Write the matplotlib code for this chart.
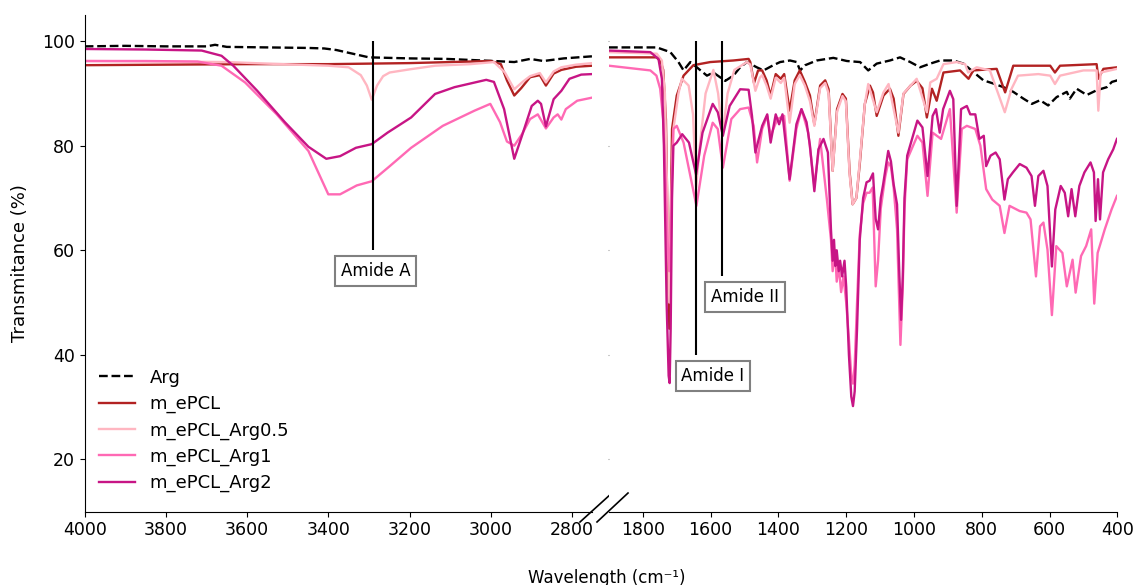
import matplotlib
matplotlib.use("Agg")
import matplotlib.pyplot as plt

# ---------------- data (wavenumber cm-1, transmittance %) ----------------
# Left panel (4000-2750)
arg_L_x = [4000, 3900, 3800, 3700, 3679, 3650, 3550, 3450, 3410, 3380, 3340, 3300, 3250, 3200, 3108, 3050, 2992, 2942, 2903, 2870, 2820, 2750]
arg_L_y = [99.0, 99.1, 99.0, 99.0, 99.3, 98.9, 98.8, 98.7, 98.6, 98.3, 97.6, 96.9, 96.8, 96.7, 96.6, 96.4, 96.2, 96.0, 96.6, 96.2, 96.7, 97.1]

pcl_L_x = [4000, 3800, 3600, 3400, 3200, 3100, 3000, 2975, 2960, 2942, 2925, 2903, 2879, 2864, 2845, 2826, 2790, 2750]
pcl_L_y = [95.4, 95.5, 95.6, 95.6, 95.8, 96.0, 96.2, 95.6, 92.5, 89.6, 91.0, 93.1, 93.5, 91.5, 93.8, 94.5, 95.1, 95.3]

a05_L_x = [4000, 3800, 3650, 3550, 3400, 3350, 3320, 3305, 3293, 3280, 3265, 3249, 3200, 3137, 3050, 2992, 2965, 2942, 2920, 2903, 2879, 2864, 2845, 2826, 2790, 2750]
a05_L_y = [96.2, 96.1, 96.0, 95.7, 95.3, 95.0, 93.5, 91.5, 88.8, 91.5, 93.3, 94.0, 94.6, 95.3, 95.6, 96.0, 94.0, 90.8, 92.3, 93.3, 93.9, 92.1, 94.2, 95.0, 95.5, 95.8]

a1_L_x = [4000, 3850, 3722, 3663, 3605, 3527, 3449, 3400, 3371, 3330, 3293, 3250, 3196, 3118, 3040, 3001, 2977, 2960, 2942, 2923, 2903, 2884, 2864, 2845, 2835, 2826, 2815, 2787, 2750]
a1_L_y = [96.2, 96.2, 96.1, 95.3, 92.1, 86.0, 79.0, 70.7, 70.7, 72.4, 73.2, 76.0, 79.6, 83.8, 86.7, 88.0, 84.5, 80.8, 80.0, 82.2, 85.1, 86.0, 83.3, 85.4, 86.0, 85.0, 87.0, 88.6, 89.2]

a2_L_x = [4000, 3850, 3712, 3663, 3634, 3575, 3507, 3449, 3405, 3371, 3332, 3293, 3254, 3196, 3137, 3089, 3011, 2992, 2967, 2942, 2923, 2899, 2884, 2876, 2864, 2845, 2826, 2806, 2777, 2750]
a2_L_y = [98.5, 98.4, 98.2, 97.2, 95.3, 90.5, 84.5, 79.8, 77.5, 78.0, 79.6, 80.3, 82.5, 85.4, 89.9, 91.2, 92.6, 92.2, 87.0, 77.5, 81.9, 87.6, 88.6, 88.0, 83.7, 88.9, 90.5, 92.8, 93.6, 93.7]

# Right panel (1900-400)
arg_R_x = [1900, 1759, 1719, 1695, 1680, 1660, 1641, 1611, 1592, 1557, 1533, 1513, 1493, 1464, 1444, 1415, 1395, 1366, 1346, 1336, 1321, 1287, 1238, 1198, 1159, 1135, 1110, 1071, 1041, 1011, 982, 952, 923, 884, 854, 825, 795, 766, 736, 707, 677, 652, 628, 604, 579, 549, 540, 520, 490, 461, 431, 416, 400]
arg_R_y = [98.8, 98.8, 97.9, 96.0, 94.4, 96.0, 95.0, 93.4, 94.0, 92.4, 93.4, 95.0, 96.0, 95.0, 94.4, 95.4, 96.0, 96.3, 96.0, 94.4, 95.4, 96.3, 96.8, 96.2, 96.0, 94.4, 95.7, 96.3, 96.9, 96.0, 95.0, 95.7, 96.3, 96.3, 95.7, 94.1, 92.5, 91.9, 91.2, 90.3, 89.0, 88.0, 88.7, 87.7, 89.3, 90.3, 89.0, 90.9, 89.7, 90.6, 91.2, 92.2, 92.5]

pcl_R_x = [1900, 1760, 1748, 1740, 1732, 1726, 1722, 1718, 1714, 1700, 1680, 1651, 1601, 1533, 1488, 1483, 1472, 1460, 1448, 1435, 1423, 1408, 1393, 1383, 1367, 1352, 1337, 1322, 1307, 1294, 1277, 1262, 1252, 1240, 1227, 1211, 1201, 1190, 1181, 1170, 1160, 1145, 1130, 1121, 1110, 1090, 1071, 1060, 1046, 1031, 1010, 992, 975, 962, 947, 933, 913, 864, 839, 825, 756, 731, 707, 598, 584, 569, 461, 456, 441, 400]
pcl_R_y = [96.9, 96.9, 96.2, 94.5, 85.0, 60.0, 45.0, 65.0, 83.2, 89.6, 93.4, 95.4, 96.0, 96.3, 96.6, 96.0, 92.0, 94.4, 94.4, 92.5, 89.6, 93.7, 92.8, 93.7, 86.7, 92.5, 94.4, 92.2, 89.6, 84.1, 91.5, 92.5, 90.8, 75.2, 87.0, 89.9, 89.0, 75.0, 68.8, 70.0, 76.5, 88.0, 91.5, 90.2, 85.7, 89.6, 90.9, 89.0, 81.9, 89.9, 91.5, 92.4, 91.0, 85.4, 90.9, 88.6, 94.0, 94.4, 92.8, 94.4, 94.7, 90.2, 95.3, 95.3, 94.0, 95.3, 95.6, 92.8, 94.7, 95.0]

a05_R_x = [1900, 1759, 1744, 1735, 1728, 1722, 1716, 1710, 1695, 1685, 1665, 1652, 1643, 1632, 1615, 1592, 1578, 1565, 1550, 1530, 1493, 1483, 1468, 1455, 1448, 1435, 1423, 1408, 1393, 1383, 1367, 1352, 1337, 1322, 1307, 1294, 1277, 1262, 1252, 1240, 1227, 1211, 1201, 1190, 1181, 1170, 1160, 1145, 1135, 1110, 1090, 1075, 1046, 1031, 992, 962, 952, 933, 913, 874, 849, 840, 815, 776, 732, 712, 693, 633, 598, 584, 569, 500, 461, 456, 449, 401]
a05_R_y = [97.9, 97.6, 96.3, 90.0, 70.0, 50.0, 70.0, 83.2, 90.0, 92.8, 91.5, 86.0, 72.0, 80.0, 90.0, 94.5, 90.0, 82.0, 90.0, 94.5, 96.0, 95.5, 90.5, 93.0, 93.5, 91.5, 89.0, 93.0, 92.0, 93.0, 84.4, 91.8, 93.5, 91.5, 88.5, 83.8, 91.0, 92.0, 90.0, 75.2, 86.5, 89.5, 88.5, 74.5, 68.8, 70.0, 77.0, 88.0, 91.8, 86.4, 90.2, 91.8, 82.5, 90.0, 92.8, 86.4, 92.1, 92.8, 95.6, 96.0, 95.6, 94.0, 95.0, 94.4, 86.4, 90.9, 93.4, 93.7, 93.4, 91.8, 93.4, 94.4, 94.4, 86.7, 94.0, 94.7]

a1_R_x = [1900, 1778, 1760, 1749, 1740, 1732, 1726, 1722, 1718, 1714, 1710, 1700, 1680, 1642, 1619, 1594, 1579, 1564, 1539, 1513, 1488, 1473, 1463, 1448, 1433, 1423, 1403, 1383, 1367, 1347, 1332, 1312, 1294, 1277, 1257, 1245, 1240, 1233, 1228, 1222, 1215, 1208, 1200, 1192, 1185, 1180, 1175, 1168, 1160, 1150, 1140, 1131, 1122, 1113, 1106, 1098, 1085, 1076, 1068, 1060, 1050, 1040, 1033, 1028, 1020, 990, 975, 960, 945, 920, 894, 874, 859, 844, 819, 804, 787, 769, 747, 733, 718, 688, 668, 656, 640, 628, 618, 606, 593, 580, 562, 549, 532, 523, 507, 492, 477, 468, 458, 437, 417, 401]
a1_R_y = [95.3, 94.4, 93.4, 90.9, 85.0, 72.0, 60.0, 56.0, 62.0, 75.0, 83.2, 83.8, 80.6, 68.5, 78.1, 84.4, 83.2, 75.8, 85.1, 87.0, 87.3, 83.8, 76.8, 83.2, 85.7, 81.9, 85.1, 85.7, 73.3, 83.2, 87.0, 82.5, 72.3, 81.3, 69.7, 62.0, 56.0, 60.0, 54.0, 57.0, 52.0, 55.0, 50.0, 43.0, 36.0, 34.5, 38.0, 50.0, 63.0, 69.0, 71.0, 71.0, 72.0, 53.1, 58.0, 68.0, 74.0, 76.8, 76.0, 72.0, 64.0, 41.9, 53.0, 68.0, 77.4, 81.9, 80.6, 70.4, 82.5, 81.3, 87.0, 67.2, 83.2, 83.8, 83.2, 80.0, 71.7, 69.7, 68.5, 63.3, 68.5, 67.5, 67.2, 65.9, 55.0, 64.6, 65.3, 60.1, 47.6, 60.8, 59.5, 53.1, 58.2, 51.9, 58.9, 60.8, 64.0, 49.8, 59.5, 64.0, 67.8, 70.4]

a2_R_x = [1900, 1778, 1754, 1744, 1738, 1730, 1724, 1721, 1718, 1714, 1710, 1700, 1684, 1664, 1643, 1624, 1594, 1579, 1564, 1544, 1513, 1488, 1478, 1468, 1458, 1448, 1433, 1423, 1408, 1398, 1388, 1367, 1347, 1332, 1317, 1307, 1294, 1282, 1267, 1254, 1245, 1240, 1236, 1232, 1228, 1222, 1218, 1212, 1205, 1200, 1192, 1185, 1180, 1175, 1168, 1160, 1150, 1140, 1131, 1121, 1113, 1106, 1098, 1091, 1076, 1068, 1060, 1050, 1043, 1038, 1033, 1028, 1020, 990, 975, 960, 945, 935, 924, 914, 894, 884, 874, 861, 844, 834, 819, 807, 794, 787, 774, 759, 747, 733, 723, 708, 688, 668, 653, 643, 633, 618, 606, 593, 583, 567, 555, 545, 535, 524, 512, 497, 479, 469, 464, 457, 451, 442, 427, 412, 401]
a2_R_y = [98.2, 97.9, 96.6, 92.8, 80.0, 50.0, 36.0, 34.6, 45.0, 70.0, 80.0, 80.6, 82.2, 80.6, 74.5, 82.5, 88.0, 86.4, 81.9, 87.6, 90.8, 90.7, 85.7, 78.7, 81.3, 83.8, 86.0, 80.6, 86.0, 84.1, 86.0, 73.6, 84.1, 87.0, 84.5, 80.0, 71.3, 79.3, 81.3, 78.7, 64.0, 58.0, 62.0, 57.0, 60.0, 56.0, 58.0, 55.0, 58.0, 53.0, 40.0, 32.0, 30.2, 33.0, 45.0, 62.0, 70.0, 73.0, 73.3, 74.7, 66.0, 64.0, 70.0, 72.6, 79.0, 77.0, 72.6, 68.8, 55.0, 46.7, 55.0, 70.0, 78.1, 84.8, 83.5, 74.2, 85.7, 87.0, 82.5, 87.0, 90.5, 88.9, 68.5, 87.0, 87.6, 86.0, 86.0, 81.3, 81.9, 76.1, 78.1, 78.7, 77.4, 69.7, 73.6, 74.9, 76.5, 75.8, 74.2, 68.5, 74.2, 75.2, 72.3, 56.9, 67.8, 72.3, 71.0, 66.5, 71.7, 66.5, 72.3, 74.9, 76.8, 74.9, 65.6, 73.6, 65.9, 74.9, 77.4, 79.3, 81.3]

labels = ["Arg", "m_ePCL", "m_ePCL_Arg0.5", "m_ePCL_Arg1", "m_ePCL_Arg2"]
colors = ["black", "#B22222", "#FFB6C1", "#FF69B4", "#C71585"]
styles = ["--", "-", "-", "-", "-"]

left_series = [(arg_L_x, arg_L_y), (pcl_L_x, pcl_L_y), (a05_L_x, a05_L_y), (a1_L_x, a1_L_y), (a2_L_x, a2_L_y)]
right_series = [(arg_R_x, arg_R_y), (pcl_R_x, pcl_R_y), (a05_R_x, a05_R_y), (a1_R_x, a1_R_y), (a2_R_x, a2_R_y)]

# annotations
ann_labels = ["Amide A", "Amide I", "Amide II"]
ann_line_x = [3290, 1643, 1566]
ann_line_ymin = [60, 40, 55]
ann_text_x = [3283, 1593, 1498]
ann_text_y = [56.1, 36.0, 51.1]
ann_panel = [0, 1, 1]

# ---------------- figure ----------------
W, H = 1135, 585
fig = plt.figure(figsize=(W / 100, H / 100), dpi=100)
ax1 = fig.add_axes([84.7 / W, 1 - 511.7 / H, (592.2 - 84.7) / W, (511.7 - 15) / H])
ax2 = fig.add_axes([609.0 / W, 1 - 511.7 / H, (1117.3 - 609.0) / W, (511.7 - 15) / H], sharey=ax1)

for ax, series in ((ax1, left_series), (ax2, right_series)):
    for (xs, ys), lab, c, ls in zip(series, labels, colors, styles):
        ax.plot(xs, ys, color=c, ls=ls, lw=1.7, label=lab)

ax1.set_xlim(4000, 2750)
ax2.set_xlim(1900, 400)
ax1.set_ylim(10, 105)
ax1.set_xticks([4000, 3800, 3600, 3400, 3200, 3000, 2800])
ax2.set_xticks([1800, 1600, 1400, 1200, 1000, 800, 600, 400])
ax1.set_yticks([20, 40, 60, 80, 100])

for sp in ("top", "right"):
    ax1.spines[sp].set_visible(False)
for sp in ("top", "right", "left"):
    ax2.spines[sp].set_visible(False)
ax2.tick_params(axis="y", length=1, labelleft=False, color="#999999")
for ax in (ax1, ax2):
    ax.tick_params(labelsize=12.5)

ax1.set_ylabel("Transmitance (%)", fontsize=13, labelpad=9)
fig.text(607 / W, 1 - 577.7 / H, "Wavelength (cm\u207b\u00b9)", ha="center", va="center", fontsize=12)

axes = [ax1, ax2]
for lab, lx, lymin, tx, ty, p in zip(ann_labels, ann_line_x, ann_line_ymin, ann_text_x, ann_text_y, ann_panel):
    a = axes[p]
    a.vlines(lx, lymin, 100, color="black", lw=1.5)
    a.text(tx, ty, lab, ha="center", va="center", fontsize=12,
           bbox=dict(boxstyle="square,pad=0.35", fc="white", ec="gray", lw=1.5))

ax1.legend(loc="lower left", frameon=False, fontsize=13, handlelength=2.0,
           labelspacing=0.45, borderaxespad=0.4, bbox_to_anchor=(0, 0.01))

# break marks
kw = dict(color="black", lw=1.2, clip_on=False)
ax1.plot([0.976, 1.039], [-0.0207, 0.0376], transform=ax1.transAxes, **kw)
ax2.plot([-0.0236, 0.0374], [-0.0207, 0.0376], transform=ax2.transAxes, **kw)

fig.savefig("out.png", dpi=100)
